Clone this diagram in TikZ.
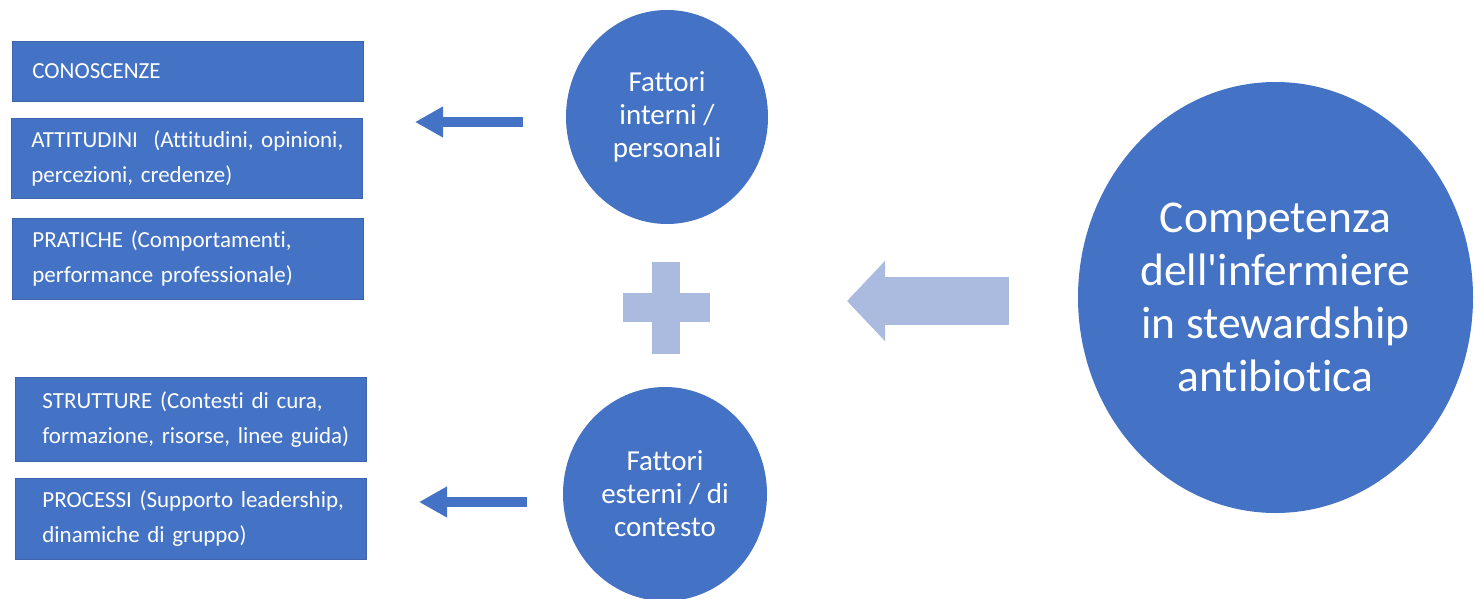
\documentclass[tikz,border=0pt]{standalone}
\usepackage{fontspec}
\setmainfont{Carlito}[Ligatures=CommonOff]
\usetikzlibrary{arrows.meta,shapes.geometric}
\definecolor{fblue}{HTML}{4472C4}
\definecolor{fedge}{HTML}{3D64AD}
\definecolor{flight}{HTML}{ABBADF}
\begin{document}
\begin{tikzpicture}[x=1pt,y=-1pt,
	box/.style={draw=fedge, line width=0.8pt, fill=fblue, text=white, anchor=north west,
		inner xsep=20pt, inner ysep=0pt, text width=311pt, align=left,
		font=\fontsize{23}{35}\selectfont},
	boxlow/.style={box, inner xsep=27pt, text width=297pt},
	dot/.style={ellipse, fill=fblue, text=white, inner sep=0pt, align=center,
		font=\fontsize{29}{33}\selectfont},
	smallarr/.style={fblue, line width=10pt, -{Triangle[length=28pt,width=29pt]}},
	bigarr/.style={flight, line width=48pt, -{Triangle[length=38pt,width=78pt]}}]
	\useasboundingbox (0,0) rectangle (1475,599);
	\node[box, minimum height=60pt] (conosc) at (12,41) {CONOSCENZE};
	\node[box, minimum height=80pt] (attit) at (11,118) {\mbox{ATTITUDINI\ \ (Attitudini, opinioni,}\\ \mbox{percezioni, credenze)}};
	\node[box, minimum height=81pt] (pratiche) at (12,218) {\mbox{PRATICHE (Comportamenti,}\\ \mbox{performance professionale)}};
	\node[boxlow, minimum height=84pt] (strutt) at (15,377) {\mbox{STRUTTURE (Contesti di cura,}\\ \mbox{formazione, risorse, linee guida)}};
	\node[boxlow, minimum height=81pt] (processi) at (15,478) {\mbox{PROCESSI (Supporto leadership,}\\ \mbox{dinamiche di gruppo)}};
	\node[dot, minimum width=202pt, minimum height=214pt] (fint) at (667,117) {Fattori\\ interni /\\ personali};
	\node[dot, minimum width=204pt, minimum height=214pt] (fest) at (665,494) {Fattori\\ esterni / di\\ contesto};
	\node[dot, minimum width=395pt, minimum height=431pt, font=\fontsize{45.5}{53}\selectfont] (compet) at (1275.5,297.5)
		{Competenza\\ dell\textquotesingle infermiere\\ in stewardship\\ antibiotica};
	\coordinate (intail) at (523,122);
	\coordinate (inhead) at (415,122);
	\coordinate (estail) at (527,502);
	\coordinate (eshead) at (419,502);
	\coordinate (cotail) at (1009,301);
	\coordinate (cohead) at (847,301);
	\draw[smallarr] (intail) -- (inhead);
	\draw[smallarr] (estail) -- (eshead);
	\draw[bigarr] (cotail) -- (cohead);
	\fill[flight] (652,262) rectangle (680,354);
	\fill[flight] (623,293) rectangle (710,322);
\end{tikzpicture}
\end{document}
